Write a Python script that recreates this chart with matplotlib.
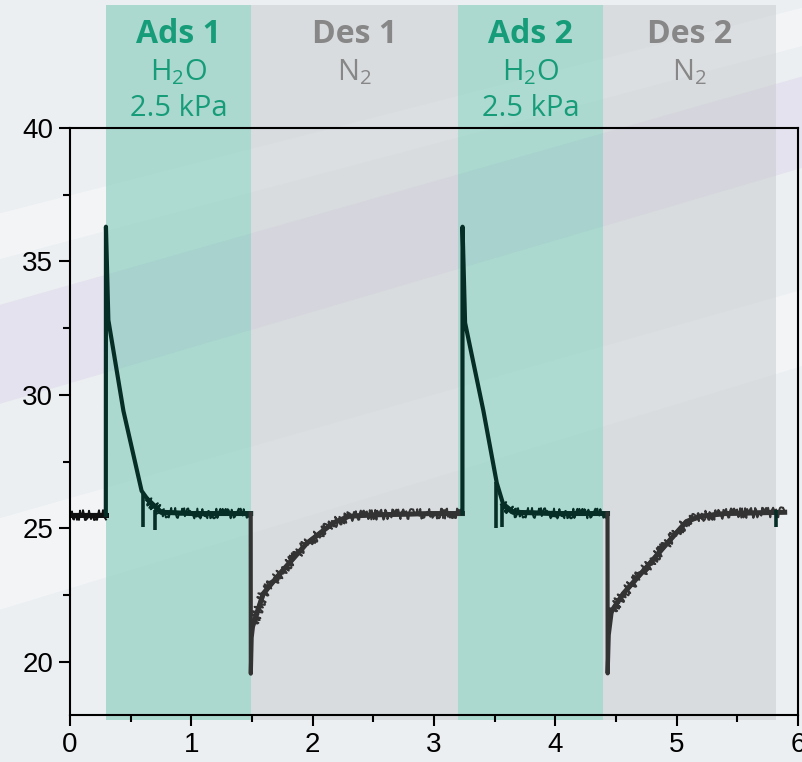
import matplotlib
matplotlib.use("Agg")
import matplotlib.pyplot as plt
from matplotlib.patches import Polygon

plt.rcParams['font.family'] = ['Liberation Sans', 'DejaVu Sans']
plt.rcParams['mathtext.fontset'] = 'custom'
plt.rcParams['mathtext.rm'] = 'Open Sans'

# ---- data ----
# stage boundaries (time)
ads_spans = [(0.30, 1.49), (3.20, 4.39)]
des_spans = [(1.49, 3.20), (4.39, 5.82)]
stage_titles = ['Ads 1', 'Des 1', 'Ads 2', 'Des 2']
stage_gas = ['H$_2$O', 'N$_2$', 'H$_2$O', 'N$_2$']
stage_press = ['2.5 kPa', '', '2.5 kPa', '']

# trace, split by stage
t_pre = [0.01, 0.15, 0.295]
y_pre = [25.5, 25.5, 25.5]

t_ads1 = [0.295, 0.296, 0.316, 0.44, 0.59, 0.645, 0.75, 1.0, 1.25, 1.489]
y_ads1 = [25.5, 36.3, 32.8, 29.4, 26.4, 26.05, 25.6, 25.55, 25.55, 25.55]

t_des1 = [1.489, 1.49, 1.497, 1.51, 1.593, 1.73, 1.95, 2.17, 2.3, 2.5, 3.0, 3.234]
y_des1 = [25.55, 19.55, 20.9, 21.4, 22.55, 23.3, 24.43, 25.2, 25.45, 25.5, 25.55, 25.55]

t_ads2 = [3.234, 3.235, 3.256, 3.407, 3.517, 3.57, 3.65, 4.0, 4.43]
y_ads2 = [25.55, 36.3, 32.7, 29.4, 26.7, 25.9, 25.6, 25.55, 25.55]

t_des2 = [4.43, 4.431, 4.44, 4.465, 4.56, 4.725, 4.92, 5.08, 5.2, 5.4, 5.89]
y_des2 = [25.55, 19.56, 21.0, 21.9, 22.55, 23.4, 24.43, 25.25, 25.45, 25.55, 25.6]

# downward spikes hanging off the trace
spike_t = [0.604, 0.70, 3.51, 3.56, 5.82]
spike_hi = [26.3, 25.7, 26.75, 25.9, 25.7]
spike_lo = [25.05, 24.95, 25.0, 25.05, 25.05]

green_txt = '#179c79'
grey_txt = '#878787'
green_line = '#062e26'
grey_line = '#333333'

fig = plt.figure(figsize=(8.03, 7.62), dpi=100)
fig.patch.set_facecolor('#eceff2')

# soft diagonal background stripes
bg = fig.add_axes([0, 0, 1, 1], zorder=-10)
bg.set_xlim(0, 1)
bg.set_ylim(0, 1)
bg.axis('off')
bg.add_patch(Polygon([(0, 0.47), (0, 0.60), (1, 0.90), (1, 0.78)], closed=True,
                     color='#d9d4ea', alpha=0.45, lw=0))
bg.add_patch(Polygon([(0, 0.20), (0, 0.32), (1, 0.62), (1, 0.52)], closed=True,
                     color='white', alpha=0.35, lw=0))
bg.add_patch(Polygon([(0, 0.66), (0, 0.72), (1, 0.99), (1, 0.94)], closed=True,
                     color='white', alpha=0.35, lw=0))

ax = fig.add_axes([0.0872, 0.0617, 0.9066, 0.7703])
ax.patch.set_alpha(0)

ymin_band = -0.009
ymax_band = 1.21
for a, b in ads_spans:
    ax.axvspan(a, b, ymin_band, ymax_band, color='#6cc4ae', alpha=0.5, lw=0,
               clip_on=False, zorder=0)
for a, b in des_spans:
    ax.axvspan(a, b, ymin_band, ymax_band, color='#c2c6c9', alpha=0.45, lw=0,
               clip_on=False, zorder=0)

# (x, y, colour, index where the noisy part starts)
segs = [(t_pre, y_pre, '#101010', 0), (t_ads1, y_ads1, green_line, 5),
        (t_des1, y_des1, grey_line, 3), (t_ads2, y_ads2, green_line, 5),
        (t_des2, y_des2, grey_line, 3)]
for t, y, c, k in segs:
    ax.plot(t, y, color=c, lw=3.0, zorder=3)
    # noisy look of the measured signal on the slow parts
    ax.plot(t[k:], y[k:], color=c, lw=3.6, zorder=3)
    ln, = ax.plot(t[k:], y[k:], color=c, lw=1.4, zorder=3)
    ln.set_sketch_params(scale=5.0, length=0.8, randomness=2)
ax.vlines(spike_t, spike_hi, spike_lo, color=green_line, lw=2.6, zorder=3)

# stage labels above the frame
spans = [ads_spans[0], des_spans[0], ads_spans[1], des_spans[1]]
xt = ax.get_xaxis_transform()
for i, (a, b) in enumerate(spans):
    xc = (a + b) / 2
    col = green_txt if i % 2 == 0 else grey_txt
    ax.text(xc, 1.160, stage_titles[i], transform=xt, ha='center', va='center',
            fontsize=23, fontweight='bold', family='Open Sans', color=col)
    ax.text(xc, 1.095, stage_gas[i], transform=xt, ha='center', va='center',
            fontsize=21, family='Open Sans', color=col)
    if stage_press[i]:
        ax.text(xc, 1.034, stage_press[i], transform=xt, ha='center', va='center',
                fontsize=21, family='Open Sans', color=col)

ax.set_xlim(0, 6)
ax.set_ylim(18, 40)
ax.set_xticks([0, 1, 2, 3, 4, 5, 6])
ax.set_xticks([0.5, 1.5, 2.5, 3.5, 4.5, 5.5], minor=True)
ax.set_yticks([20, 25, 30, 35, 40])
ax.set_yticks([22.5, 27.5, 32.5, 37.5], minor=True)
ax.tick_params(which='major', length=8, width=1.5, labelsize=20, pad=4)
ax.tick_params(which='minor', length=5, width=1.5)
for s in ax.spines.values():
    s.set_linewidth(1.5)
    s.set_zorder(4)

fig.savefig('out.png', dpi=100, facecolor=fig.get_facecolor())
